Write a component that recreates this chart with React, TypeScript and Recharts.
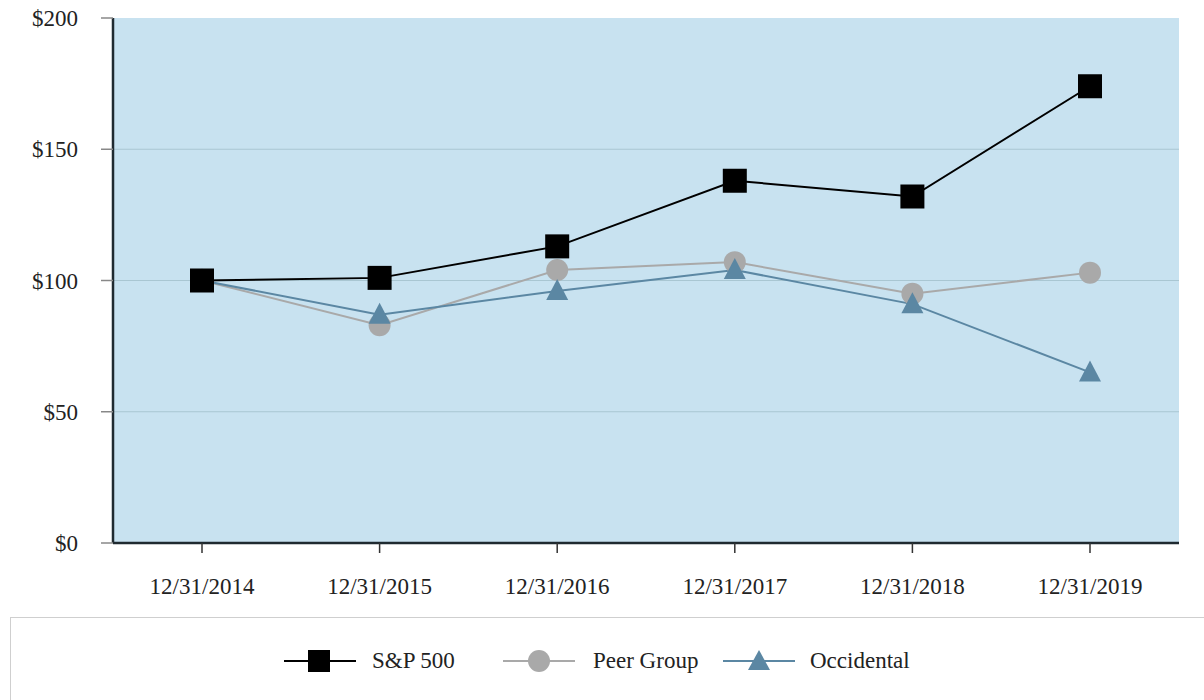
import { LineChart, Line, XAxis, YAxis, CartesianGrid } from "recharts";

// Cumulative total return, $100 invested 12/31/2014
const years = ["12/31/2014", "12/31/2015", "12/31/2016", "12/31/2017", "12/31/2018", "12/31/2019"];
const sp500 = [100, 101, 113, 138, 132, 174];
const peerGroup = [100, 83, 104, 107, 95, 103];
const occidental = [100, 87, 96, 104, 91, 65];
const yTicks = [0, 50, 100, 150, 200];

const data = years.map((year, i) => ({
  year,
  sp: sp500[i],
  peer: peerGroup[i],
  oxy: occidental[i],
}));

const FONT = "'Liberation Serif', 'Times New Roman', serif";
const BLACK = "#000000";
const GREY = "#a9a9a9";
const BLUE = "#5b87a3";

type DotProps = { cx?: number; cy?: number; index?: number };

function SquareDot({ cx, cy, index }: DotProps) {
  if (cx == null || cy == null) return null;
  return <rect key={index} x={cx - 12} y={cy - 12} width={24} height={24} fill={BLACK} />;
}

function CircleDot({ cx, cy, index }: DotProps) {
  if (cx == null || cy == null) return null;
  return <circle key={index} cx={cx} cy={cy} r={11} fill={GREY} />;
}

function TriangleDot({ cx, cy, index }: DotProps) {
  if (cx == null || cy == null) return null;
  return (
    <path
      key={index}
      d={`M${cx},${cy - 12} L${cx + 11},${cy + 9} L${cx - 11},${cy + 9} Z`}
      fill={BLUE}
    />
  );
}

// legend entries, left edge of icon and label
function LegendItem({
  label,
  color,
  marker,
  iconLeft,
  textLeft,
}: {
  label: string;
  color: string;
  marker: React.ReactNode;
  iconLeft: number;
  textLeft: number;
}) {
  return (
    <>
      <svg width={72} height={26} style={{ position: "absolute", left: iconLeft, top: 30 }}>
        <line x1={0} y1={13} x2={72} y2={13} stroke={color} strokeWidth={2} />
        {marker}
      </svg>
      <span
        style={{
          position: "absolute",
          left: textLeft,
          top: 28,
          fontSize: 23,
          lineHeight: "30px",
          color: "#222",
          whiteSpace: "nowrap",
        }}
      >
        {label}
      </span>
    </>
  );
}

export default function App() {
  return (
    <div
      style={{
        position: "absolute",
        top: 0,
        left: 0,
        width: 1204,
        height: 700,
        background: "#fff",
        fontFamily: FONT,
        overflow: "hidden",
      }}
    >
      <LineChart
        width={1204}
        height={610}
        data={data}
        margin={{ top: 18, right: 25, left: 0, bottom: 0 }}
      >
        <CartesianGrid
          vertical={false}
          fill="#c8e2f0"
          stroke="#a9c6d2"
          strokeWidth={1}
          horizontalValues={[50, 100, 150]}
        />
        <XAxis
          dataKey="year"
          padding={{ left: 89, right: 89 }}
          height={67}
          tickSize={10}
          tickMargin={25}
          tick={{ fontSize: 23, fill: "#222", fontFamily: FONT }}
          tickLine={{ stroke: "#333", strokeWidth: 1.5 }}
          axisLine={{ stroke: "#1f2a30", strokeWidth: 2.5 }}
        />
        <YAxis
          domain={[0, 200]}
          ticks={yTicks}
          width={113}
          tickSize={12}
          tickMargin={23}
          tickFormatter={(v: number) => `$${v}`}
          tick={{ fontSize: 23, fill: "#222", fontFamily: FONT }}
          tickLine={{ stroke: "#888", strokeWidth: 1.5 }}
          axisLine={{ stroke: "#1f2a30", strokeWidth: 2.5 }}
        />
        <Line
          dataKey="peer"
          stroke={GREY}
          strokeWidth={2}
          dot={<CircleDot />}
          activeDot={false}
          isAnimationActive={false}
        />
        <Line
          dataKey="oxy"
          stroke={BLUE}
          strokeWidth={2}
          dot={<TriangleDot />}
          activeDot={false}
          isAnimationActive={false}
        />
        <Line
          dataKey="sp"
          stroke={BLACK}
          strokeWidth={2}
          dot={<SquareDot />}
          activeDot={false}
          isAnimationActive={false}
        />
      </LineChart>
      <div
        style={{
          position: "absolute",
          left: 10,
          top: 617,
          width: 1210,
          height: 90,
          border: "1px solid #cfcfcf",
          boxSizing: "border-box",
        }}
      >
        <LegendItem
          label="S&P 500"
          color={BLACK}
          iconLeft={273}
          textLeft={361}
          marker={<rect x={24} y={2} width={22} height={22} fill={BLACK} />}
        />
        <LegendItem
          label="Peer Group"
          color={GREY}
          iconLeft={492}
          textLeft={582}
          marker={<circle cx={36} cy={13} r={11} fill={GREY} />}
        />
        <LegendItem
          label="Occidental"
          color={BLUE}
          iconLeft={712}
          textLeft={799}
          marker={<path d="M36,2 L47,22 L25,22 Z" fill={BLUE} />}
        />
      </div>
    </div>
  );
}
